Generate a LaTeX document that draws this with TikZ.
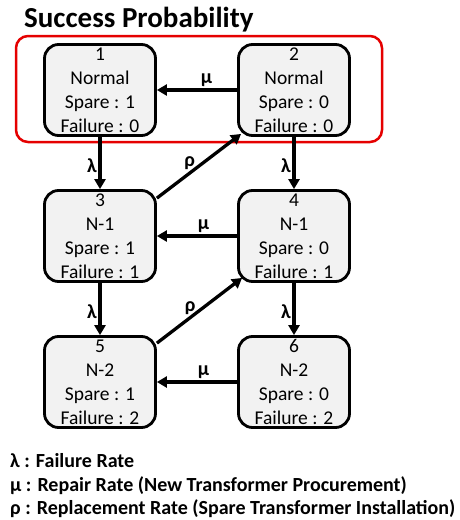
\documentclass[tikz,border=0pt]{standalone}
\usepackage{fontspec}
\setmainfont{Carlito}
\usetikzlibrary{arrows.meta}
\begin{document}
\begin{tikzpicture}[x=1pt,y=-1pt,
 state/.style={draw=black, line width=2.8pt, fill=black!5, rounded corners=14pt,
   minimum width=111pt, minimum height=91pt, inner sep=0pt, align=center,
   font=\fontsize{19.5}{24}\selectfont},
 arr/.style={line width=3.3pt, -{Triangle[length=10pt,width=11pt]}},
 lab/.style={font=\fontsize{20}{22}\selectfont\bfseries, inner sep=1.5pt},
 legend/.style={anchor=base west, font=\fontsize{20}{22}\selectfont\bfseries, inner sep=0pt},
 redbox/.style={draw=red!90!black, line width=2.5pt, rounded corners=12pt, inner sep=0pt}]
\useasboundingbox (0,0) rectangle (460,520);

\node[anchor=base west, font=\fontsize{29}{32}\selectfont\bfseries, inner sep=0pt] (title) at (24,27) {Success Probability};

\node[redbox, minimum width=366pt, minimum height=106pt] (grp) at (199,89) {};

\node[state] (n1) at (100,90) {1\\Normal\\Spare : 1\\Failure : 0};
\node[state] (n2) at (294,90) {2\\Normal\\Spare : 0\\Failure : 0};
\node[state] (n3) at (100,236) {3\\N-1\\Spare : 1\\Failure : 1};
\node[state] (n4) at (294,236) {4\\N-1\\Spare : 0\\Failure : 1};
\node[state] (n5) at (100,382) {5\\N-2\\Spare : 1\\Failure : 2};
\node[state] (n6) at (294,382) {6\\N-2\\Spare : 0\\Failure : 2};

\draw[arr] (n1) -- (n3) node[lab, left, pos=0.55] {λ};
\draw[arr] (n2) -- (n4) node[lab, left, pos=0.55] {λ};
\draw[arr] (n3) -- (n5) node[lab, left, pos=0.55] {λ};
\draw[arr] (n4) -- (n6) node[lab, left, pos=0.55] {λ};

\draw[arr] (n2) -- (n1) node[lab, above, pos=0.38] {μ};
\draw[arr] (n4) -- (n3) node[lab, above, pos=0.42] {μ};
\draw[arr] (n6) -- (n5) node[lab, above, pos=0.42] {μ};

\draw[arr] ([yshift=-9pt]n3.north east) -- ([xshift=4pt,yshift=3pt]n2.south west) node[lab, above, pos=0.39] {ρ};
\draw[arr] ([yshift=-8pt]n5.north east) -- ([xshift=5pt,yshift=5pt]n4.south west) node[lab, above, pos=0.39] {ρ};

\node[legend] (l1) at (10,467) {λ : Failure Rate};
\node[legend] (l2) at (10,491) {μ : Repair Rate (New Transformer Procurement)};
\node[legend] (l3) at (10,514) {ρ : Replacement Rate (Spare Transformer Installation)};
\end{tikzpicture}
\end{document}
